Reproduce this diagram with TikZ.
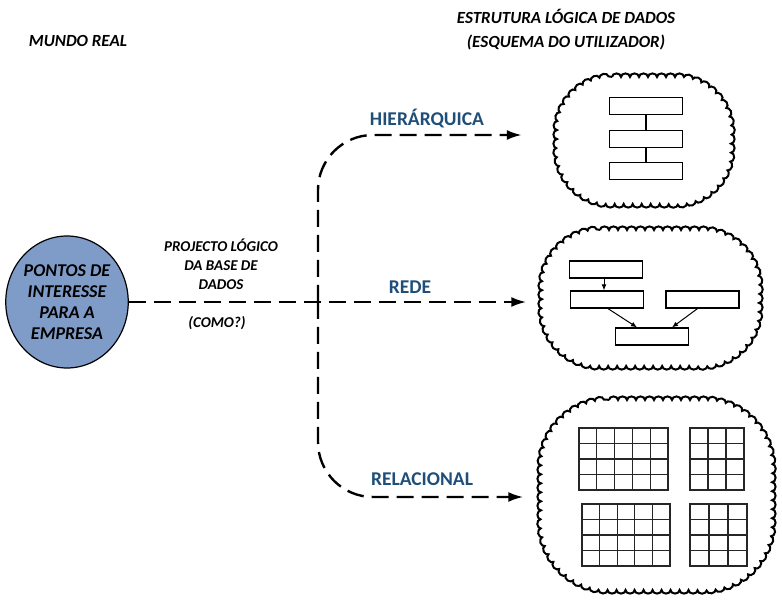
\documentclass[tikz,border=0pt]{standalone}
\usepackage{fontspec}
\setmainfont{Carlito}[BoldItalicFont={Carlito Bold Italic}]
\usetikzlibrary{arrows.meta,shapes.geometric,decorations.pathmorphing}
\definecolor{azulrotulo}{HTML}{1F4E79}
\definecolor{azulelipse}{HTML}{7F9CC9}
\tikzset{
  fluxo/.style={line width=2.4pt, dash pattern=on 17pt off 8pt, -{Latex[length=15pt,width=10pt]}},
  nuvem/.style={inner sep=0pt},
  borda/.style={line width=2pt, decorate, decoration={bumps, segment length=18pt, amplitude=3.6pt}},
  caixa/.style={draw, line width=1.2pt, minimum width=73pt, minimum height=17pt, inner sep=0pt},
  celula/.style={line width=1.2pt, draw=black!85},
  seta/.style={line width=1pt, -{Latex[length=6pt,width=5pt]}},
  titulo/.style={font=\fontsize{17}{24}\selectfont\bfseries\itshape},
  meio/.style={font=\fontsize{15}{19}\selectfont\bfseries\itshape},
  rotulo/.style={font=\fontsize{19.5}{22}\selectfont\bfseries, text=azulrotulo},
}
% borda de nuvem: x0 y0 x1 y1 raio
\newcommand{\borda}[5]{%
  \draw[borda] ({#1+#5},#2) -- ({#3-#5},#2)
    .. controls ({#3-0.45*#5},#2) and (#3,{#2+0.45*#5}) .. (#3,{#2+#5})
    -- (#3,{#4-#5})
    .. controls (#3,{#4-0.45*#5}) and ({#3-0.45*#5},#4) .. ({#3-#5},#4)
    -- ({#1+#5},#4)
    .. controls ({#1+0.45*#5},#4) and (#1,{#4-0.45*#5}) .. (#1,{#4-#5})
    -- (#1,{#2+#5})
    .. controls (#1,{#2+0.45*#5}) and ({#1+0.45*#5},#2) .. cycle;
}
% tabela: x0 y0 x1 y1 colunas linhas
\newcommand{\tabela}[6]{%
  \draw[celula] (#1,#2) rectangle (#3,#4);
  \pgfmathtruncatemacro\ncol{#5-1}
  \pgfmathtruncatemacro\nlin{#6-1}
  \foreach \i in {1,...,\ncol}
    \draw[celula] ({#1+\i*(#3-#1)/#5},#2) -- ({#1+\i*(#3-#1)/#5},#4);
  \foreach \j in {1,...,\nlin}
    \draw[celula] (#1,{#2+\j*(#4-#2)/#6}) -- (#3,{#2+\j*(#4-#2)/#6});
}
\begin{document}
\begin{tikzpicture}[x=1pt, y=-1pt]
\useasboundingbox (0,0) rectangle (782,601);

\node[titulo] (mundo) at (78,41) {MUNDO REAL};
\node[titulo, align=center] (estrutura) at (566,30) {ESTRUTURA LÓGICA DE DADOS\\(ESQUEMA DO UTILIZADOR)};

\node[ellipse, draw, line width=1.2pt, fill=azulelipse, minimum width=112pt, minimum height=132pt,
  inner sep=0pt, align=center, font=\fontsize{18}{21}\selectfont\bfseries\itshape] (real) at (67,302)
  {PONTOS DE\\INTERESSE\\PARA A\\EMPRESA};

\node[meio, align=center] (projecto) at (221,264) {PROJECTO LÓGICO\\DA BASE DE\\DADOS};
\node[meio] (como) at (217,323) {(COMO?)};

% nuvens
\node[nuvem, minimum width=174pt, minimum height=127pt] (nuvem1) at (644,140) {};
\node[nuvem, minimum width=217pt, minimum height=136pt] (nuvem2) at (650,298) {};
\node[nuvem, minimum width=231pt, minimum height=190pt] (nuvem3) at (656,495) {};
\borda{557}{77}{731}{204}{55}
\borda{542}{230}{759}{366}{58}
\borda{541}{400}{772}{590}{68}

% ligacoes
\coordinate (fork) at (318,302);
\draw[fluxo] (real.east) -- (real.east -| nuvem2.west) [shorten >=15pt];
\draw[fluxo, rounded corners=55pt, shorten >=35pt] (fork) |- ([yshift=5pt]nuvem1.west);
\draw[fluxo, rounded corners=55pt, shorten >=17pt] (fork) |- ([yshift=-2pt]nuvem3.west);

\node[rotulo] (hier) at (427,119) {HIERÁRQUICA};
\node[rotulo] (rede) at (410,287) {REDE};
\node[rotulo] (relac) at (422,479) {RELACIONAL};

% hierarquica
\node[caixa] (h1) at (646,106) {};
\node[caixa] (h2) at (646,139) {};
\node[caixa] (h3) at (646,171) {};
\draw[line width=1.2pt] (h1) -- (h2) (h2) -- (h3);

% rede
\node[caixa] (r1) at (606,269.5) {};
\node[caixa] (r2) at (607,299.5) {};
\node[caixa] (r3) at (702.5,299.5) {};
\node[caixa] (r4) at (652,336.5) {};
\draw[seta] ([xshift=-2pt]r1.south) -- ([xshift=-3pt]r2.north);
\draw[seta] ([xshift=1pt]r2.south) -- ([xshift=-15pt]r4.north);
\draw[seta] ([xshift=-5pt]r3.south) -- ([xshift=20pt]r4.north);

% relacional
\tabela{579}{428}{668}{490}{5}{4}
\tabela{690}{428}{744}{490}{3}{4}
\tabela{582}{504}{670}{566}{5}{4}
\tabela{690}{504}{747}{566}{3}{4}
\end{tikzpicture}
\end{document}
